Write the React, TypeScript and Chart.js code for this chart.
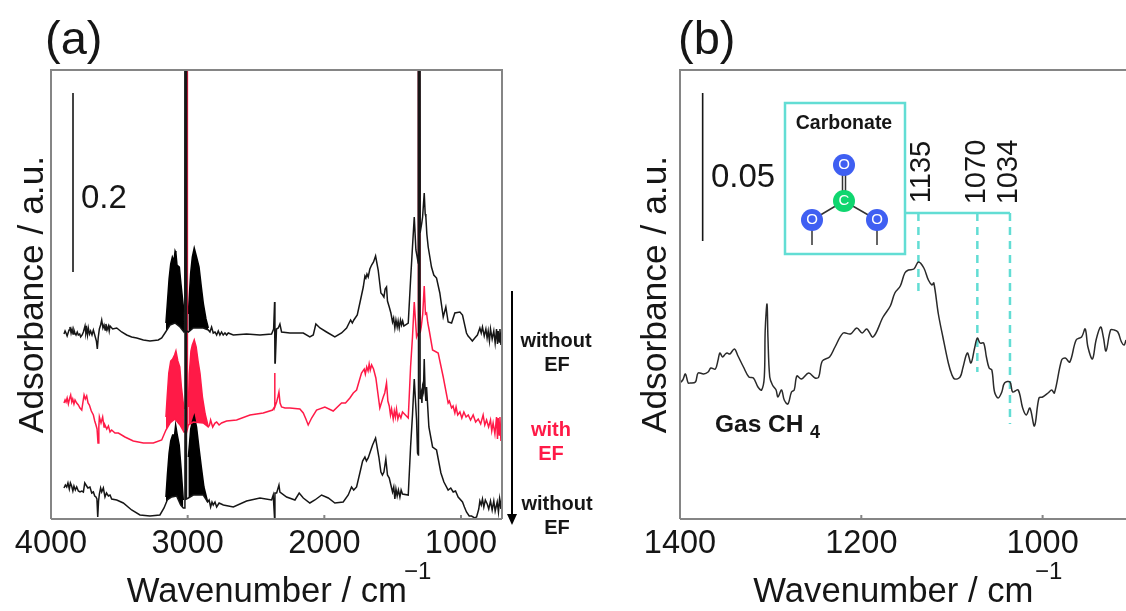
import React, { useEffect, useRef } from "react";
import { Chart, registerables } from "chart.js";

Chart.register(...registerables);

const FONT = "'Liberation Sans', Arial, sans-serif";
const INK = "#161616";
const RED = "#ff1a47";
const TEAL = "#62ddd4";
const FRAME = "#858585";

type Pair = [number, number];

// ---------- panel (a): [wavenumber, height above the lower frame] ----------
const aTicks = [4000, 3000, 2000, 1000];

const topSpectrum: Pair[] = [
  [3905,185],[3897,188],[3890,186],[3882,183],[3875,186],[3868,189],[3861,192],[3853,186],[3846,190],[3839,185],[3832,189],[3825,186],[3817,184],[3808,187],[3800,184],[3790,185],[3783,182],[3772,184],[3763,187],[3751,193],[3745,186],[3739,190],[3733,184],[3727,191],[3718,185],[3710,188],[3700,184],[3690,189],[3676,182],[3668,178],[3661,170],[3654,182],[3646,190],[3637,194],[3629,199],[3620,191],[3612,194],[3604,189],[3598,195],[3590,189],[3580,193],[3574,188],[3568,193],[3549,190],[3519,191],[3483,187],[3446,184],[3410,182],[3373,181],[3324,179],[3276,178],[3215,179],[3190,181],[3166,186],[3129,194],[3093,196],[3056,192],[3027,187],[3021,188],[3019,460],[3011,460],[3009,188],[2995,187],[2959,191],[2886,191],[2849,189],[2837,187],[2825,192],[2813,186],[2800,187],[2788,184],[2776,188],[2764,184],[2752,187],[2740,184],[2727,186],[2715,184],[2703,186],[2666,184],[2569,185],[2471,184],[2386,185],[2371,190],[2364,217],[2362,217],[2361,156],[2359,156],[2350,190],[2337,191],[2325,195],[2313,187],[2252,186],[2154,186],[2106,182],[2081,184],[2062,195],[2032,191],[1984,187],[1923,182],[1874,186],[1837,191],[1808,199],[1795,196],[1784,199],[1759,204],[1740,216],[1715,232],[1703,243],[1696,241],[1688,245],[1679,242],[1667,250],[1654,254],[1640,257],[1625,263],[1606,249],[1586,226],[1573,224],[1564,222],[1555,230],[1545,232],[1538,218],[1525,212],[1513,206],[1501,197],[1493,201],[1484,191],[1476,199],[1467,192],[1460,198],[1452,191],[1443,199],[1435,194],[1427,198],[1418,193],[1386,196],[1369,239],[1355,272],[1342,302],[1330,269],[1313,256],[1312,258],[1311,460],[1301,460],[1299,286],[1287,296],[1281,302],[1269,326],[1262,305],[1257,302],[1250,285],[1240,272],[1228,262],[1216,252],[1199,244],[1179,241],[1155,226],[1130,202],[1111,212],[1094,197],[1069,196],[1045,206],[1008,207],[989,204],[960,186],[948,183],[935,181],[917,178],[899,181],[880,184],[862,191],[852,186],[843,192],[830,183],[818,190],[809,181],[801,188],[792,178],[784,190],[772,180],[760,188],[750,176],[740,190],[733,175],[728,188],[720,177],[715,190],[708,174],[701,189],
];
const topLeftLobe: Pair[] = [[3159,196],[3149,215],[3136,240],[3124,255],[3112,262],[3100,258],[3092,268],[3086,266],[3078,254],[3061,252],[3049,235],[3036,218],[3027,207]];
const topRightLobe: Pair[] = [[2995,205],[2987,225],[2978,246],[2966,262],[2952,271],[2935,262],[2917,252],[2900,232],[2885,215],[2866,200],[2849,191]];

const redSpectrum: Pair[] = [
  [3905,116],[3897,119],[3890,117],[3882,121],[3873,115],[3865,120],[3856,124],[3848,117],[3841,120],[3832,115],[3824,119],[3812,116],[3800,114],[3788,111],[3775,109],[3765,118],[3758,124],[3749,120],[3739,123],[3729,116],[3719,114],[3705,108],[3690,104],[3680,98],[3671,94],[3663,90],[3656,76],[3650,92],[3646,102],[3634,96],[3622,102],[3612,92],[3605,94],[3592,90],[3580,93],[3568,87],[3556,89],[3532,86],[3507,86],[3459,82],[3398,78],[3324,76],[3251,76],[3190,79],[3159,89],[3129,96],[3093,100],[3056,94],[3027,87],[3012,88],[3010,460],[3004,460],[3002,90],[2995,94],[2959,97],[2886,96],[2849,92],[2840,94],[2832,99],[2817,92],[2800,96],[2788,97],[2770,94],[2752,96],[2715,98],[2642,99],[2544,104],[2447,106],[2378,109],[2365,112],[2364,146],[2362,146],[2361,112],[2349,117],[2340,122],[2332,127],[2324,116],[2313,112],[2288,111],[2252,111],[2179,110],[2154,106],[2135,100],[2118,94],[2093,101],[2057,109],[1996,112],[1935,108],[1874,116],[1845,116],[1813,121],[1788,126],[1764,129],[1745,138],[1728,146],[1708,150],[1700,145],[1690,152],[1680,148],[1672,155],[1664,149],[1654,154],[1640,150],[1623,141],[1594,111],[1569,122],[1558,126],[1545,136],[1535,118],[1525,113],[1516,104],[1508,110],[1496,100],[1488,108],[1480,102],[1472,110],[1462,100],[1452,105],[1440,101],[1428,107],[1386,101],[1369,152],[1355,182],[1342,217],[1325,182],[1313,186],[1312,188],[1311,460],[1304,460],[1299,186],[1291,192],[1280,205],[1269,233],[1260,205],[1252,206],[1243,196],[1233,189],[1208,169],[1167,166],[1130,142],[1094,116],[1085,118],[1069,111],[1058,113],[1045,106],[1036,112],[1024,104],[1008,107],[994,101],[979,107],[963,102],[947,104],[930,99],[911,104],[893,97],[874,100],[856,95],[838,104],[826,94],[813,99],[798,92],[784,99],[775,88],[765,96],[752,85],[740,102],[733,80],[728,101],[720,84],[715,102],[708,78],[701,96],
];
const redLeftLobe: Pair[] = [[3159,102],[3150,122],[3138,146],[3124,158],[3110,160],[3096,164],[3086,168],[3072,158],[3058,152],[3046,132],[3027,110]];
const redRightLobe: Pair[] = [[2995,112],[2988,145],[2976,168],[2966,174],[2952,179],[2938,172],[2924,158],[2910,146],[2892,122],[2872,105],[2849,92]];

const botSpectrum: Pair[] = [
  [3905,31],[3895,34],[3885,32],[3876,36],[3866,30],[3858,36],[3849,33],[3840,28],[3832,33],[3822,29],[3812,32],[3800,28],[3788,27],[3775,28],[3763,27],[3753,36],[3744,34],[3730,31],[3715,32],[3702,26],[3690,27],[3680,23],[3671,22],[3664,20],[3658,2],[3652,18],[3646,25],[3637,31],[3629,27],[3617,31],[3605,22],[3594,26],[3580,23],[3568,24],[3556,20],[3519,19],[3471,16],[3410,9],[3349,4],[3276,3],[3203,4],[3173,11],[3149,19],[3117,22],[3081,23],[3051,14],[3032,11],[3020,11],[3019,460],[3011,460],[3009,20],[2995,21],[2959,24],[2886,24],[2854,17],[2843,19],[2832,12],[2822,17],[2813,14],[2800,17],[2788,12],[2770,16],[2739,14],[2666,12],[2569,18],[2471,21],[2386,19],[2374,24],[2364,0],[2362,0],[2361,26],[2349,26],[2332,34],[2325,27],[2276,22],[2215,19],[2184,26],[2154,21],[2106,16],[2069,19],[2020,24],[1971,21],[1923,16],[1862,17],[1825,24],[1801,32],[1785,29],[1764,32],[1735,49],[1720,58],[1703,62],[1692,58],[1679,61],[1662,68],[1647,74],[1625,81],[1601,62],[1586,47],[1575,44],[1564,47],[1550,60],[1538,44],[1525,41],[1513,34],[1501,27],[1492,32],[1484,20],[1476,30],[1467,23],[1458,29],[1447,22],[1438,29],[1428,25],[1386,24],[1369,72],[1355,104],[1342,140],[1325,99],[1318,66],[1312,64],[1311,460],[1301,460],[1299,120],[1291,126],[1286,116],[1281,132],[1275,128],[1269,160],[1263,130],[1257,118],[1252,132],[1235,92],[1208,72],[1179,69],[1147,46],[1125,37],[1094,29],[1075,31],[1057,27],[1040,28],[1021,22],[989,17],[975,12],[960,7],[940,3],[923,3],[900,1],[886,2],[870,10],[862,18],[852,14],[843,20],[833,12],[822,19],[808,15],[797,10],[784,18],[772,9],[760,18],[750,8],[735,17],[726,7],[718,20],[708,10],[701,26],
];
const botLeftLobe: Pair[] = [[3159,22],[3148,45],[3136,66],[3124,78],[3110,84],[3096,84],[3088,94],[3076,84],[3062,74],[3048,50],[3032,19]];
const botRightLobe: Pair[] = [[2995,62],[2986,76],[2978,90],[2964,98],[2952,103],[2935,92],[2918,72],[2900,52],[2881,32],[2854,17]];

const aBarWn = [3839, 3839];
const aBarVal = [426, 247];

// ---------- panel (b) ----------
const bTicks = [1400, 1200, 1000];

const gasWn = [1400,1397,1394,1391,1389,1383,1380,1374,1369,1366,1361,1358,1356,1353,1350,1348,1345,1340,1336,1330,1324,1319,1314,1310,1307,1306,1304,1303,1301,1298,1294,1292,1288,1285,1281,1277,1274,1271,1266,1258,1251,1247,1243,1235,1229,1220,1212,1205,1199,1194,1187,1176,1168,1163,1157,1152,1148,1142,1137,1131,1126,1122,1120,1115,1110,1104,1100,1097,1091,1088,1083,1079,1075,1072,1069,1065,1062,1059,1056,1053,1049,1045,1042,1036,1033,1027,1022,1018,1014,1009,1004,1000,994,990,987,979,975,970,963,957,953,950,945,941,936,933,930,925,921,917,913,910,908];
const gasVal = [136,139,145,136,136,137,146,145,147,151,150,159,166,162,165,166,165,170,163,152,142,141,132,129,142,189,215,182,142,134,129,122,129,119,115,127,129,143,140,146,141,142,158,162,172,186,185,191,186,190,182,202,213,226,233,246,249,250,257,251,239,234,236,205,182,156,144,140,142,151,166,156,171,181,176,176,162,151,149,127,121,127,136,137,127,129,111,104,111,93,121,122,126,129,126,159,161,157,179,182,190,172,160,179,192,182,168,189,189,187,177,174,179];

const bBarWn = [1375, 1375];
const bBarVal = [426, 278];

const peakLabels = ["1135", "1070", "1034"];
const peakWn = [1137, 1072, 1036];
const peakBottomVal = [226, 147, 95];
const connectorVal = 306;
const connectorStartWn = 1151;

const toPoints = (pairs: Pair[]) => pairs.map(([x, y]) => ({ x, y }));
const zip = (xs: number[], ys: number[]) => xs.map((x, i) => ({ x, y: ys[i] }));

function line(data: { x: number; y: number }[], color: string, extra: object = {}) {
  return {
    data,
    borderColor: color,
    backgroundColor: color,
    borderWidth: 1.5,
    pointRadius: 0,
    tension: 0,
    fill: false,
    ...extra,
  };
}

function text(
  ctx: CanvasRenderingContext2D,
  s: string,
  x: number,
  y: number,
  font: string,
  color = INK,
  align: CanvasTextAlign = "center",
  angle = 0
) {
  ctx.save();
  ctx.translate(x, y);
  ctx.rotate(angle);
  ctx.font = `${font} ${FONT}`;
  ctx.fillStyle = color;
  ctx.textAlign = align;
  ctx.textBaseline = "middle";
  ctx.fillText(s, 0, 0);
  ctx.restore();
}

function frame(chart: any, tickValues: number[], sides: { right: boolean }) {
  const { ctx, chartArea: a, scales } = chart;
  ctx.save();
  ctx.strokeStyle = FRAME;
  ctx.lineWidth = 2;
  ctx.beginPath();
  ctx.moveTo(a.left, a.bottom);
  ctx.lineTo(a.left, a.top);
  ctx.lineTo(a.right, a.top);
  if (sides.right) ctx.lineTo(a.right, a.bottom);
  ctx.moveTo(a.left, a.bottom);
  ctx.lineTo(a.right, a.bottom);
  tickValues.slice(1).forEach((t) => {
    const px = scales.x.getPixelForValue(t);
    ctx.moveTo(px, a.bottom);
    ctx.lineTo(px, a.bottom - 4);
  });
  ctx.stroke();
  ctx.restore();
}

function baseOptions(min: number, max: number, ticks: number[], padRight: number, yWidth: number, yPad: number): any {
  return {
    animation: false,
    responsive: false,
    layout: { padding: { top: 70, right: padRight, left: 0, bottom: 0 } },
    plugins: { legend: { display: false }, tooltip: { enabled: false } },
    scales: {
      x: {
        type: "linear",
        reverse: true,
        min,
        max,
        grid: { display: false, drawTicks: false },
        border: { display: false },
        afterBuildTicks: (s: any) => {
          s.ticks = ticks.map((value) => ({ value }));
        },
        afterFit: (s: any) => {
          s.height = 92;
        },
        ticks: {
          autoSkip: false,
          maxRotation: 0,
          padding: 6,
          color: INK,
          font: { family: FONT, size: 32.5 },
          callback: (v: number) => String(v),
        },
        title: {
          display: true,
          text: "Wavenumber / cm\u00A0\u00A0",
          color: INK,
          font: { family: FONT, size: 34.7, lineHeight: 1.05 },
          padding: { top: 0, bottom: 0 },
        },
      },
      y: {
        type: "linear",
        min: 0,
        max: 449,
        grid: { display: false, drawTicks: false },
        border: { display: false },
        ticks: { display: false },
        afterFit: (s: any) => {
          s.width = yWidth;
        },
        title: {
          display: true,
          text: "Adsorbance / a.u.",
          color: INK,
          font: { family: FONT, size: 35.4 },
          padding: { top: yPad, bottom: 0 },
        },
      },
    },
  };
}

const panelA = {
  id: "panelA",
  afterDraw(chart: any) {
    const ctx = chart.ctx as CanvasRenderingContext2D;
    frame(chart, aTicks, { right: true });
    text(ctx, "(a)", 45, 41, "47px", INK, "left");
    text(ctx, "0.2", 81, 199, "33px", INK, "left");
    text(ctx, "\u22121", 404, 572, "24px", INK, "left");

    text(ctx, "without", 556, 341, "bold 20px");
    text(ctx, "EF", 557, 365, "bold 20px");
    text(ctx, "with", 551, 430, "bold 20px", RED);
    text(ctx, "EF", 551, 454, "bold 20px", RED);
    text(ctx, "without", 557, 504, "bold 20px");
    text(ctx, "EF", 557, 528, "bold 20px");

    ctx.save();
    ctx.strokeStyle = "#000";
    ctx.fillStyle = "#000";
    ctx.lineWidth = 2;
    ctx.beginPath();
    ctx.moveTo(512, 291);
    ctx.lineTo(512, 516);
    ctx.stroke();
    ctx.beginPath();
    ctx.moveTo(507, 514);
    ctx.lineTo(517, 514);
    ctx.lineTo(512, 525);
    ctx.closePath();
    ctx.fill();
    ctx.restore();
  },
};

const OFFSET_B = 630;

const panelB = {
  id: "panelB",
  afterDraw(chart: any) {
    const ctx = chart.ctx as CanvasRenderingContext2D;
    const X = (v: number) => v - OFFSET_B;
    frame(chart, bTicks, { right: false });
    text(ctx, "(b)", X(678), 41, "47px", INK, "left");
    text(ctx, "0.05", X(711), 178, "33px", INK, "left");
    text(ctx, "\u22121", X(1035), 572, "24px", INK, "left");
    text(ctx, "Gas CH", X(715), 425, "bold 24.5px", INK, "left");
    text(ctx, "4", X(810), 433, "bold 18px", INK, "left");

    const labelX = [922, 977, 1009];
    peakLabels.forEach((l, i) => {
      text(ctx, l, X(labelX[i]), 172, "29px", INK, "center", -Math.PI / 2);
    });

    ctx.save();
    ctx.fillStyle = "#fff";
    ctx.strokeStyle = TEAL;
    ctx.lineWidth = 2.5;
    ctx.fillRect(X(785), 103, 120, 151);
    ctx.strokeRect(X(785), 103, 120, 151);

    ctx.strokeStyle = "#333";
    ctx.lineWidth = 1.5;
    ctx.beginPath();
    ctx.moveTo(X(842.5), 165);
    ctx.lineTo(X(842.5), 201);
    ctx.moveTo(X(845.5), 165);
    ctx.lineTo(X(845.5), 201);
    ctx.moveTo(X(844), 201);
    ctx.lineTo(X(812), 220);
    ctx.moveTo(X(844), 201);
    ctx.lineTo(X(877), 220);
    ctx.moveTo(X(812), 220);
    ctx.lineTo(X(812), 245);
    ctx.moveTo(X(877), 220);
    ctx.lineTo(X(877), 245);
    ctx.stroke();

    const atoms: [number, number, string, string][] = [
      [844, 165, "#3f5ff2", "O"],
      [812, 220, "#3f5ff2", "O"],
      [877, 220, "#3f5ff2", "O"],
      [844, 201, "#0fd66f", "C"],
    ];
    atoms.forEach(([ax, ay, col, sym]) => {
      ctx.beginPath();
      ctx.arc(X(ax), ay, 11, 0, Math.PI * 2);
      ctx.fillStyle = col;
      ctx.fill();
      text(ctx, sym, X(ax), ay, "15px", "#ffffff");
    });
    ctx.restore();
    text(ctx, "Carbonate", X(844), 124, "bold 19.5px");
  },
};

export default function App() {
  const aRef = useRef<HTMLCanvasElement>(null);
  const bRef = useRef<HTMLCanvasElement>(null);

  useEffect(() => {
    document.body.style.margin = "0";
    const a = new Chart(aRef.current as HTMLCanvasElement, {
      type: "line",
      data: {
        datasets: [
          line(toPoints(topSpectrum), INK),
          line(toPoints(botSpectrum), INK),
          line(toPoints(redSpectrum), RED),
          line(toPoints(topLeftLobe), "#000", { fill: 0 }),
          line(toPoints(topRightLobe), "#000", { fill: 0 }),
          line(toPoints(botLeftLobe), "#000", { fill: 1 }),
          line(toPoints(botRightLobe), "#000", { fill: 1 }),
          line(toPoints(redLeftLobe), RED, { fill: 2 }),
          line(toPoints(redRightLobe), RED, { fill: 2 }),
          line(zip(aBarWn, aBarVal), INK, { borderWidth: 1.6 }),
        ],
      } as any,
      options: baseOptions(700, 4000, aTicks, 128, 51, 12),
      plugins: [panelA],
    });

    const b = new Chart(bRef.current as HTMLCanvasElement, {
      type: "line",
      data: {
        datasets: [
          line(zip(gasWn, gasVal), "#2a2a2a", { tension: 0.35 }),
          line(zip(bBarWn, bBarVal), INK, { borderWidth: 1.6 }),
          line(zip([connectorStartWn, peakWn[2]], [connectorVal, connectorVal]), TEAL, { borderWidth: 2.5 }),
          ...peakWn.map((w, i) =>
            line(zip([w, w], [connectorVal, peakBottomVal[i]]), TEAL, {
              borderWidth: 2.5,
              borderDash: [8, 6],
            })
          ),
        ],
      } as any,
      options: baseOptions(908, 1400, bTicks, 0, 50, 5),
      plugins: [panelB],
    });

    return () => {
      a.destroy();
      b.destroy();
    };
  }, []);

  const canvasFilter = "blur(0.45px)";
  return (
    <div style={{ position: "absolute", left: 0, top: 0, width: 1126, height: 611, overflow: "hidden", background: "#fff" }}>
      <canvas ref={aRef} width={630} height={611} style={{ position: "absolute", left: 0, top: 0, filter: canvasFilter }} />
      <canvas ref={bRef} width={496} height={611} style={{ position: "absolute", left: OFFSET_B, top: 0, filter: canvasFilter }} />
    </div>
  );
}
